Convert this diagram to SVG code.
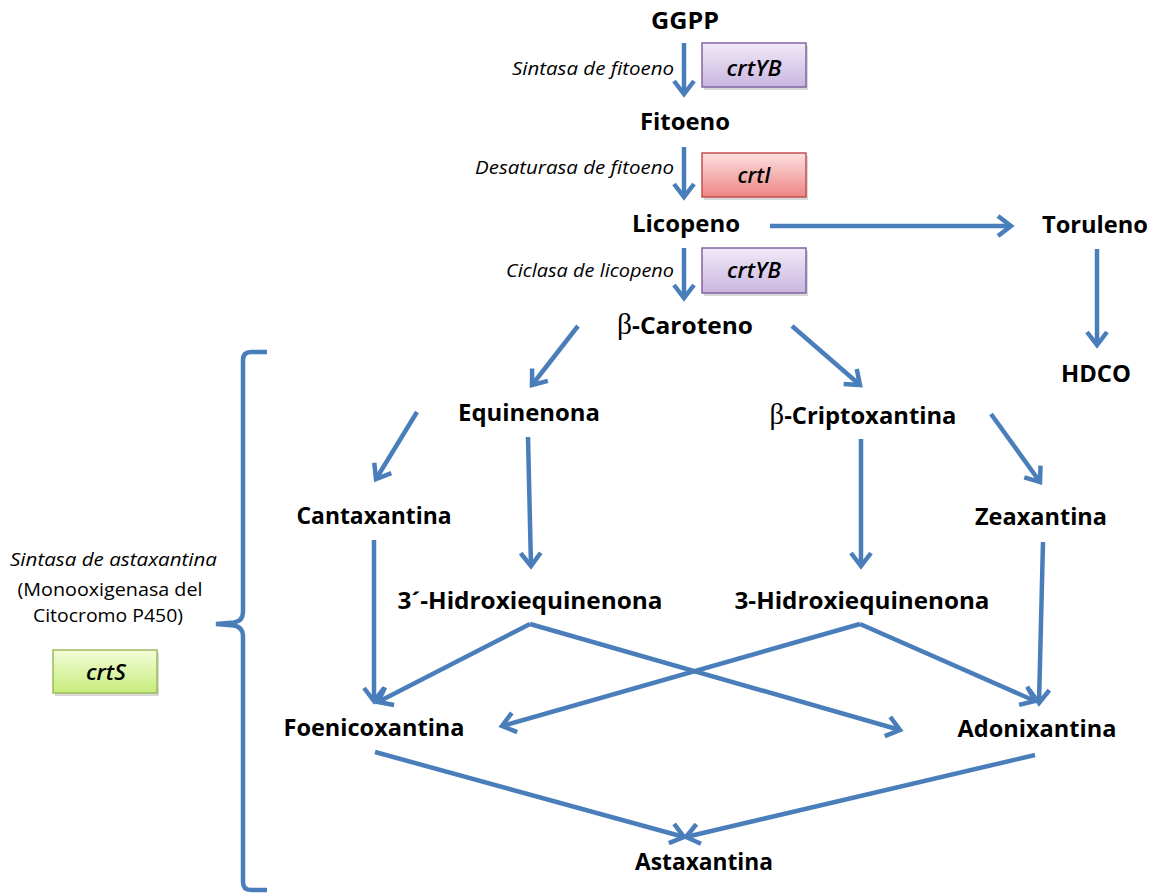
<svg xmlns="http://www.w3.org/2000/svg" width="1161" height="896" viewBox="0 0 1161 896">
<defs>
<marker id="ah" markerUnits="userSpaceOnUse" viewBox="-16 -12 20 24" markerWidth="20" markerHeight="24" refX="0" refY="0" orient="auto">
<path d="M-13,-10 L0,0 L-13,10" fill="none" stroke="#4a7ebb" stroke-width="4.5" stroke-linejoin="miter"/>
</marker>
<linearGradient id="gP" x1="0" y1="0" x2="0" y2="1"><stop offset="0" stop-color="#f1eaf8"/><stop offset="1" stop-color="#c9b6e0"/></linearGradient>
<linearGradient id="gR" x1="0" y1="0" x2="0" y2="1"><stop offset="0" stop-color="#fde0e0"/><stop offset="1" stop-color="#ee8585"/></linearGradient>
<linearGradient id="gG" x1="0" y1="0" x2="0" y2="1"><stop offset="0" stop-color="#f4fcd8"/><stop offset="1" stop-color="#c6ec7c"/></linearGradient>
<style>
.n{font-family:"Open Sans","Noto Sans","Liberation Sans",sans-serif;font-weight:bold;font-size:24px;fill:#000;text-anchor:middle}
.e{font-family:"Open Sans","Noto Sans","Liberation Sans",sans-serif;font-style:italic;font-size:18px;fill:#000;text-anchor:end}
.l{font-family:"Open Sans","Noto Sans","Liberation Sans",sans-serif;font-size:18px;fill:#000;text-anchor:middle}
.g{font-family:"Open Sans","Noto Sans","Liberation Sans",sans-serif;font-style:italic;font-weight:600;font-size:21px;fill:#000;text-anchor:middle}
.b{font-family:"Liberation Serif","DejaVu Serif",serif;font-weight:normal;font-size:29px}
.c{fill:none;stroke:#4a7ebb;stroke-width:4.5;marker-end:url(#ah)}
.br{fill:none;stroke:#4a7ebb;stroke-width:4.5}
.shadow{fill:#000;opacity:0.15}
</style>
</defs>
<rect width="1161" height="896" fill="#fff"/>

<g id="connectors">
<line class="c" x1="684" y1="43" x2="684" y2="94"/>
<line class="c" x1="684" y1="147" x2="684" y2="197"/>
<line class="c" x1="684" y1="248" x2="684" y2="298"/>
<line class="c" x1="770" y1="226" x2="1011" y2="226"/>
<line class="c" x1="1097" y1="249" x2="1097" y2="345"/>
<line class="c" x1="578" y1="326" x2="532" y2="385"/>
<line class="c" x1="792" y1="326" x2="860" y2="385"/>
<line class="c" x1="417" y1="412" x2="376" y2="479"/>
<line class="c" x1="528" y1="437" x2="531" y2="566"/>
<line class="c" x1="861" y1="439" x2="861" y2="566"/>
<line class="c" x1="991" y1="414" x2="1040" y2="482"/>
<line class="c" x1="374" y1="540" x2="374" y2="701"/>
<polyline class="c" points="530,624 378,702"/>
<polyline class="c" points="530,624 900,730"/>
<polyline class="c" points="860,624 502,726"/>
<polyline class="c" points="860,624 1035,701"/>
<line class="c" x1="1043" y1="542" x2="1039" y2="703"/>
<line class="c" x1="375" y1="752" x2="684" y2="837"/>
<line class="c" x1="1035" y1="755" x2="686" y2="837"/>
<path class="br" d="M267,352 L251,352 Q243,352 243,360 L243,612 Q243,621 234,622.5 L216,624 L234,625.5 Q243,627 243,636 L243,882 Q243,890 251,890 L267,890"/>
</g>

<g id="GGPP"><text class="n" x="685" y="29" textLength="68" lengthAdjust="spacingAndGlyphs">GGPP</text></g>
<g id="label-sintasa-fitoeno"><text class="e" x="674" y="75" textLength="162" lengthAdjust="spacingAndGlyphs">Sintasa de fitoeno</text></g>
<g id="box-crtYB-1">
<rect class="shadow" x="704" y="46" width="104" height="44"/>
<rect x="702" y="43" width="104" height="44" fill="url(#gP)" stroke="#8064a2" stroke-width="1.5"/>
<text class="g" x="754" y="76" textLength="55" lengthAdjust="spacingAndGlyphs">crtYB</text>
</g>
<g id="Fitoeno"><text class="n" x="685" y="130" textLength="90" lengthAdjust="spacingAndGlyphs">Fitoeno</text></g>
<g id="label-desaturasa"><text class="e" x="674" y="174" textLength="199" lengthAdjust="spacingAndGlyphs">Desaturasa de fitoeno</text></g>
<g id="box-crtI">
<rect class="shadow" x="704" y="156" width="104" height="44"/>
<rect x="702" y="153" width="104" height="44" fill="url(#gR)" stroke="#c0504d" stroke-width="1.5"/>
<text class="g" x="754" y="183" textLength="33" lengthAdjust="spacingAndGlyphs">crtI</text>
</g>
<g id="Licopeno"><text class="n" x="686" y="232" textLength="108" lengthAdjust="spacingAndGlyphs">Licopeno</text></g>
<g id="Toruleno"><text class="n" x="1095" y="233" textLength="106" lengthAdjust="spacingAndGlyphs">Toruleno</text></g>
<g id="HDCO"><text class="n" x="1096" y="382" textLength="70" lengthAdjust="spacingAndGlyphs">HDCO</text></g>
<g id="label-ciclasa"><text class="e" x="674" y="277" textLength="168" lengthAdjust="spacingAndGlyphs">Ciclasa de licopeno</text></g>
<g id="box-crtYB-2">
<rect class="shadow" x="704" y="251" width="104" height="45"/>
<rect x="702" y="248" width="104" height="45" fill="url(#gP)" stroke="#8064a2" stroke-width="1.5"/>
<text class="g" x="754" y="278" textLength="54" lengthAdjust="spacingAndGlyphs">crtYB</text>
</g>
<g id="beta-Caroteno"><text class="n" x="685" y="334" textLength="136" lengthAdjust="spacingAndGlyphs"><tspan class="b">β</tspan>-Caroteno</text></g>
<g id="Equinenona"><text class="n" x="529" y="421" textLength="142" lengthAdjust="spacingAndGlyphs">Equinenona</text></g>
<g id="beta-Criptoxantina"><text class="n" x="863" y="424" textLength="187" lengthAdjust="spacingAndGlyphs"><tspan class="b">β</tspan>-Criptoxantina</text></g>
<g id="Cantaxantina"><text class="n" x="374" y="524" textLength="155" lengthAdjust="spacingAndGlyphs">Cantaxantina</text></g>
<g id="Zeaxantina"><text class="n" x="1041" y="525" textLength="132" lengthAdjust="spacingAndGlyphs">Zeaxantina</text></g>
<g id="3p-Hidroxiequinenona"><text class="n" x="530" y="609" textLength="265" lengthAdjust="spacingAndGlyphs">3´-Hidroxiequinenona</text></g>
<g id="3-Hidroxiequinenona"><text class="n" x="862" y="609" textLength="255" lengthAdjust="spacingAndGlyphs">3-Hidroxiequinenona</text></g>
<g id="Foenicoxantina"><text class="n" x="374" y="736" textLength="181" lengthAdjust="spacingAndGlyphs">Foenicoxantina</text></g>
<g id="Adonixantina"><text class="n" x="1037" y="737" textLength="159" lengthAdjust="spacingAndGlyphs">Adonixantina</text></g>
<g id="Astaxantina"><text class="n" x="704" y="870" textLength="138" lengthAdjust="spacingAndGlyphs">Astaxantina</text></g>
<g id="label-sintasa-astaxantina">
<text class="e" x="217" y="566" textLength="207" lengthAdjust="spacingAndGlyphs">Sintasa de astaxantina</text>
<text class="l" x="110" y="596" textLength="185" lengthAdjust="spacingAndGlyphs">(Monooxigenasa del</text>
<text class="l" x="108" y="622" textLength="150" lengthAdjust="spacingAndGlyphs">Citocromo P450)</text>
</g>
<g id="box-crtS">
<rect class="shadow" x="55" y="653" width="104" height="43"/>
<rect x="53" y="650" width="104" height="43" fill="url(#gG)" stroke="#9bbb59" stroke-width="1.5"/>
<text class="g" x="106" y="680" textLength="40" lengthAdjust="spacingAndGlyphs">crtS</text>
</g>
</svg>
